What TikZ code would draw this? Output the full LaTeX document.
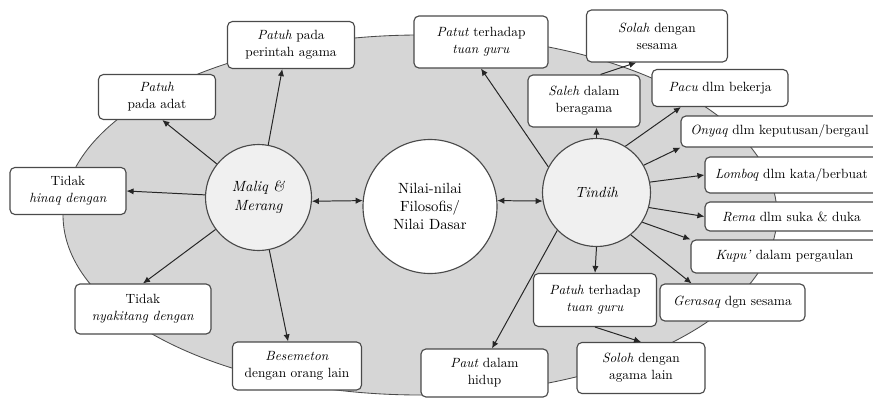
\documentclass[tikz,border=0pt]{standalone}
\usepackage{tikz}
\usetikzlibrary{arrows.meta}
\usepackage{xcolor}

\definecolor{bggray}{HTML}{D6D6D6}
\definecolor{hubgray}{HTML}{F0F0F0}
\definecolor{edgegray}{HTML}{4A4A4A}

\tikzset{
	valuebox/.style={draw=edgegray, line width=0.8pt, fill=white, rounded corners=3.5pt,
		align=center, inner sep=1pt, font=\fontsize{9.5}{12}\selectfont},
	hub/.style={circle, draw=edgegray, line width=0.8pt, align=center, inner sep=0pt,
		font=\fontsize{10.5}{13.5}\selectfont},
	link/.style={-{Latex[length=5pt,width=4.5pt]}, line width=0.7pt, draw=black!85},
	twolink/.style={{Latex[length=5pt,width=4.5pt]}-{Latex[length=5pt,width=4.5pt]}, line width=0.7pt, draw=black!85}
}

\begin{document}
\begin{tikzpicture}
		\useasboundingbox (0,0) rectangle (21.825,9.95);
		\clip (0,0) rectangle (21.825,9.95);
		
		% Big gray ellipse behind everything
		\draw[fill=bggray, draw=edgegray, line width=0.6pt] (10.5,4.575) ellipse (8.925 and 4.5);
		
		% The three circles
		\node[hub, fill=hubgray, minimum size=2.65cm] (maliq) at (6.4625,5.0125) {\textit{Maliq \&}\\\textit{Merang}};
		\node[hub, fill=white, minimum size=3.35cm, font=\fontsize{10.5}{12.5}\selectfont] (nilai) at (10.75,4.7875) {Nilai-nilai\\Filosofis/\\Nilai Dasar};
		\node[hub, fill=hubgray, minimum size=2.7cm] (tindih) at (14.9125,5.1375) {\textit{Tindih}};
		
		% Boxes round Maliq & Merang
		\node[valuebox, minimum width=3.175cm, minimum height=1.175cm] (perintah) at (7.275,8.825) {\textit{Patuh} pada\\perintah agama};
		\node[valuebox, minimum width=2.925cm, minimum height=1.125cm] (adat) at (3.925,7.525) {\textit{Patuh}\\pada adat};
		\node[valuebox, minimum width=2.9cm, minimum height=1.175cm] (hinaq) at (1.7,5.175) {Tidak\\\textit{hinaq dengan}};
		\node[valuebox, minimum width=3.4cm, minimum height=1.25cm] (nyakitang) at (3.575,2.225) {Tidak\\\textit{nyakitang dengan}};
		\node[valuebox, minimum width=3.225cm, minimum height=1.2cm] (besemeton) at (7.425,0.8) {\textit{Besemeton}\\dengan orang lain};
		
		% Boxes round Tindih
		\node[valuebox, minimum width=3.35cm, minimum height=1.3cm] (patut) at (12.025,8.9) {\textit{Patut} terhadap\\\textit{tuan guru}};
		\node[valuebox, minimum width=3.525cm, minimum height=1.3cm] (solah) at (16.425,9.05) {\textit{Solah} dengan\\sesama};
		\node[valuebox, minimum width=2.8cm, minimum height=1.3cm] (saleh) at (14.6,7.425) {\textit{Saleh} dalam\\beragama};
		\node[valuebox, minimum width=3.4cm, minimum height=0.925cm] (pacu) at (18.0,7.75) {\textit{Pacu} dlm bekerja};
		\node[valuebox, minimum width=4.925cm, minimum height=0.775cm] (onyaq) at (19.4875,6.6625) {\textit{Onyaq} dlm keputusan/bergaul};
		\node[valuebox, minimum width=4.325cm, minimum height=0.9cm] (lomboq) at (19.7875,5.575) {\textit{Lomboq} dlm kata/berbuat};
		\node[valuebox, minimum width=4.325cm, minimum height=0.725cm] (rema) at (19.7875,4.5375) {\textit{Rema} dlm suka \& duka};
		\node[valuebox, minimum width=4.675cm, minimum height=0.825cm] (kupu) at (19.6125,3.5375) {\textit{Kupu'} dalam pergaulan};
		\node[valuebox, minimum width=3.625cm, minimum height=0.925cm] (gerasaq) at (18.3125,2.3875) {\textit{Gerasaq} dgn sesama};
		\node[valuebox, minimum width=3.075cm, minimum height=1.325cm] (patuhguru) at (14.875,2.45) {\textit{Patuh} terhadap\\\textit{tuan guru}};
		\node[valuebox, minimum width=3.2cm, minimum height=1.275cm] (soloh) at (16.025,0.75) {\textit{Soloh} dengan\\agama lain};
		\node[valuebox, minimum width=3.175cm, minimum height=1.2cm] (paut) at (12.1125,0.625) {\textit{Paut} dalam\\hidup};
		
		% Two-way arrows between the circles
		\draw[twolink] (maliq.-4) -- (nilai.175);
		\draw[twolink] (nilai.5) -- (tindih.189);
		
		% Arrows out of Maliq & Merang
		\draw[link] (maliq) -- (perintah.250);
		\draw[link] (maliq) -- (adat.283);
		\draw[link] (maliq) -- (hinaq.east);
		\draw[link] (maliq) -- (nyakitang.north);
		\draw[link] (maliq) -- (besemeton.110);
		
		% Arrows out of Tindih
		\draw[link] (tindih.152) -- (patut.south);
		\draw[link] (tindih.north) -- (tindih.north |- saleh.south);
		\draw[link] (tindih.58) -- (pacu.206);
		\draw[link] (tindih.30) -- (onyaq.south west);
		\draw[link] (tindih.11) -- (lomboq.west);
		\draw[link] (tindih.344) -- (rema.west);
		\draw[link] (tindih.327) -- (kupu.north west);
		\draw[link] (tindih.309) -- (gerasaq.155);
		\draw[link] (tindih.south) -- (patuhguru.north);
		\draw[link] (tindih.224) -- (paut.73);
		
		% Second step arrows
		\draw[link] (saleh.58) -- (solah.232);
		\draw[link] (patuhguru.south) -- (soloh.north);
	\end{tikzpicture}
\end{document}
